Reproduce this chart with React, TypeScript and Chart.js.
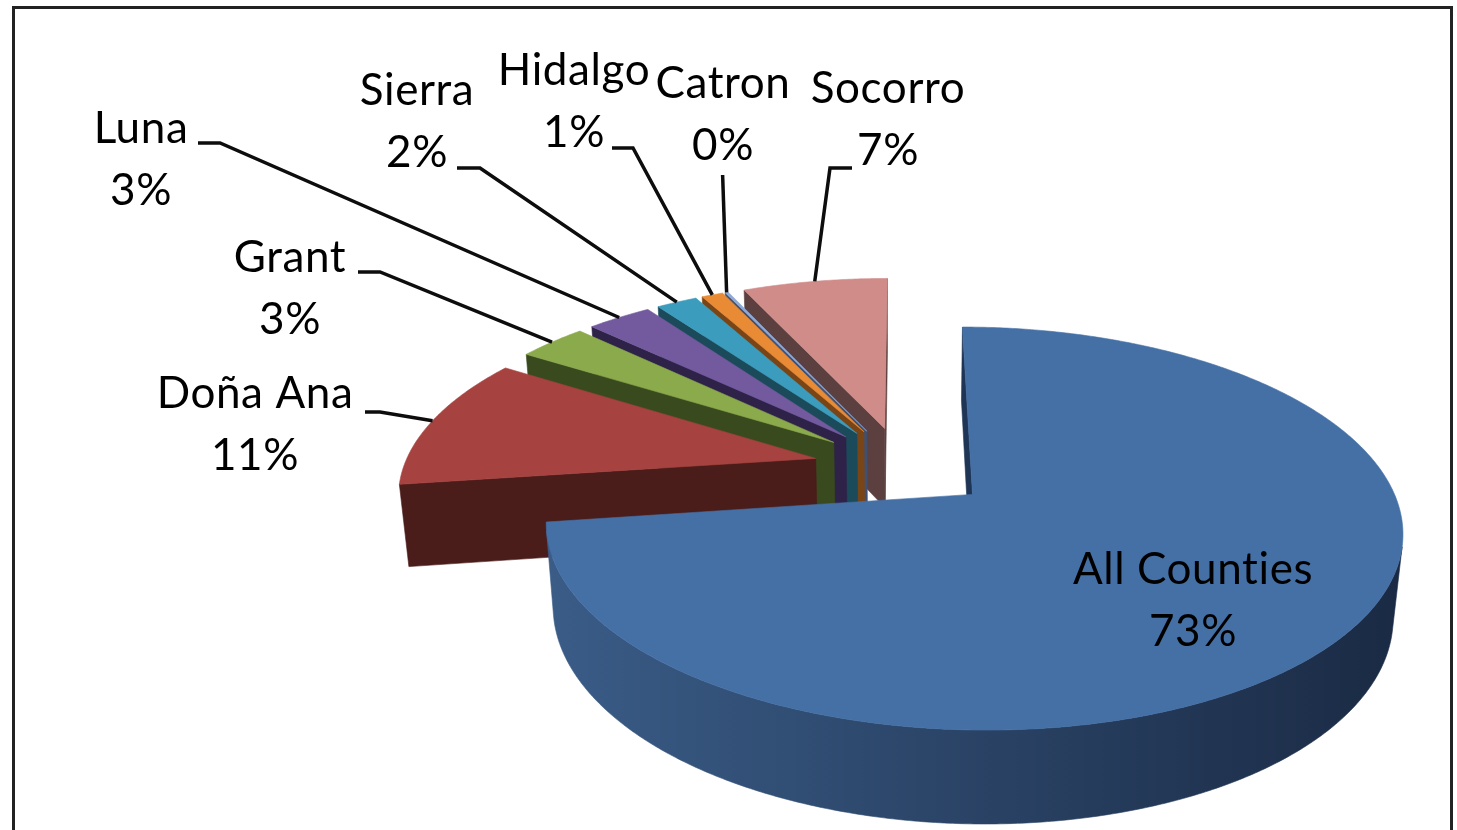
import React, { useEffect, useRef } from "react";
import { Chart, registerables } from "chart.js";

Chart.register(...registerables);

// ---- data ----
const COUNTIES = ["All Counties", "Doña Ana", "Grant", "Luna", "Sierra", "Hidalgo", "Catron", "Socorro"];
const SHARES = [72.8, 11.2, 3.2, 3.0, 1.9, 1.0, 0.15, 6.75];

// ---- styles ----
const TOP_COLORS = ["#4570A6", "#A6423F", "#8AAA4B", "#735A9E", "#3B9CBE", "#E98A35", "#8FA9D6", "#D08C89"];
const SIDE_COLORS = ["#1F3555", "#4A1C1A", "#3A4A1F", "#2E2248", "#1B4A5B", "#7A4516", "#3E5175", "#5C403F"];
const WALL_LEFT = ["#3A5C87", "#5A2220", "#44561F", "#37294F", "#1F5566", "#8A5019", "#4A5F86", "#6A4947"];
const WALL_RIGHT = ["#1A2A44", "#3E1614", "#2E3B18", "#241A3A", "#153C4A", "#663A10", "#33445F", "#4A3332"];

// ---- label layout (text centre x, first-line baseline y) ----
const LABEL_X = [1193, 255, 290, 141, 417, 574, 723, 888];
const LABEL_Y = [584, 408, 272, 143, 105, 85, 98, 103];
// leader stub: [x near text, x elbow, y]; null = no leader; x<0 = vertical leader
const LEADER_STUBS: (number[] | null)[] = [
  null,
  [365, 380, 412],
  [358, 380, 272],
  [198, 220, 143],
  [457, 480, 168],
  [612, 633, 148],
  [-1, -1, 175],
  [852, 830, 168],
];

const FONT = "44px Lato, 'Open Sans', sans-serif";
const LINE_GAP = 62;

const pie3d = {
  id: "pie3d",
  beforeDatasetsDraw(chart: any, _args: any, opts: any) {
    const meta = chart.getDatasetMeta(0);
    const arcs = meta.data as any[];
    if (!arcs.length) return false;
    const ctx: CanvasRenderingContext2D = chart.ctx;
    const first = arcs[0];
    const R = first.outerRadius;
    const cx = first.x;
    const cy = first.y;
    const k = Math.sin(opts.tilt);
    const c = Math.cos(opts.tilt);
    const D = opts.distance * R;
    const H = opts.depth * R;
    const E = opts.explode * R;
    const camW = D * c;
    const proj = (u: number, w: number, h: number): [number, number] => {
      const Z = w * c + h * k;
      const s = D / (D - Z);
      return [cx + u * s, cy + (w * k - h * c) * s];
    };
    const fillPoly = (pts: [number, number][], style: any) => {
      ctx.beginPath();
      pts.forEach(([x, y], j) => (j ? ctx.lineTo(x, y) : ctx.moveTo(x, y)));
      ctx.closePath();
      ctx.fillStyle = style;
      ctx.fill();
      ctx.strokeStyle = style;
      ctx.lineWidth = 0.6;
      ctx.stroke();
    };

    const slices = arcs.map((el: any, i: number) => {
      const s = el.startAngle;
      const e = el.endAngle;
      const mid = (s + e) / 2;
      return { i, s, e, mid, vu: E * Math.cos(mid), vw: E * Math.sin(mid) };
    });
    const order = [...slices].sort((p, q) => p.vw - q.vw);

    ctx.save();
    for (const sl of order) {
      const { i, s, e, vu, vw } = sl;
      if (e - s <= 0) continue;
      const n = Math.max(2, Math.ceil((e - s) / (Math.PI / 360)));
      const angs: number[] = [];
      for (let j = 0; j <= n; j++) angs.push(s + ((e - s) * j) / n);
      const pt = (a: number) => [vu + R * Math.cos(a), vw + R * Math.sin(a)];

      // radial cut faces
      const faces = [
        { a: s, na: s - Math.PI / 2 },
        { a: e, na: e + Math.PI / 2 },
      ];
      for (const f of faces) {
        const dot = Math.cos(f.na) * (0 - vu) + Math.sin(f.na) * (camW - vw);
        if (dot <= 0) continue;
        const [pu, pw] = pt(f.a);
        fillPoly([proj(vu, vw, 0), proj(pu, pw, 0), proj(pu, pw, -H), proj(vu, vw, -H)], SIDE_COLORS[i]);
      }

      // outer curved wall
      const vis = angs.map((a) => {
        const [qu, qw] = pt(a);
        return Math.cos(a) * (0 - qu) + Math.sin(a) * (camW - qw) > 0;
      });
      let j = 0;
      while (j <= n) {
        if (!vis[j]) { j++; continue; }
        let m = j;
        while (m + 1 <= n && vis[m + 1]) m++;
        if (m > j) {
          const top: [number, number][] = [];
          const bot: [number, number][] = [];
          for (let t = j; t <= m; t++) {
            const [qu, qw] = pt(angs[t]);
            top.push(proj(qu, qw, 0));
            bot.push(proj(qu, qw, -H));
          }
          const xs = top.map((p) => p[0]);
          const x0 = Math.min(...xs);
          const x1 = Math.max(...xs);
          const g = ctx.createLinearGradient(x0, 0, Math.max(x1, x0 + 1), 0);
          g.addColorStop(0, WALL_LEFT[i]);
          g.addColorStop(1, WALL_RIGHT[i]);
          fillPoly([...top, ...bot.reverse()], g);
        }
        j = m + 1;
      }

      // top face
      const topPts: [number, number][] = [proj(vu, vw, 0)];
      for (const a of angs) {
        const [qu, qw] = pt(a);
        topPts.push(proj(qu, qw, 0));
      }
      fillPoly(topPts, TOP_COLORS[i]);
    }

    // labels and leader lines
    const total = SHARES.reduce((a, b) => a + b, 0);
    ctx.strokeStyle = "#0d0d0d";
    ctx.lineWidth = 3.5;
    ctx.lineJoin = "miter";
    for (const sl of slices) {
      const stub = LEADER_STUBS[sl.i];
      if (!stub) continue;
      const [eu, ew] = [sl.vu + R * Math.cos(sl.mid), sl.vw + R * Math.sin(sl.mid)];
      const end = proj(eu, ew, 0);
      ctx.beginPath();
      if (stub[0] < 0) {
        ctx.moveTo(end[0] - 4, stub[2]);
      } else {
        ctx.moveTo(stub[0], stub[2]);
        ctx.lineTo(stub[1], stub[2]);
      }
      ctx.lineTo(end[0], end[1]);
      ctx.stroke();
    }
    ctx.fillStyle = "#000";
    ctx.font = FONT;
    (ctx as any).letterSpacing = "0.6px";
    ctx.textAlign = "center";
    ctx.textBaseline = "alphabetic";
    for (const sl of slices) {
      const pct = Math.round((SHARES[sl.i] / total) * 100);
      ctx.fillText(COUNTIES[sl.i], LABEL_X[sl.i], LABEL_Y[sl.i]);
      ctx.fillText(`${pct}%`, LABEL_X[sl.i], LABEL_Y[sl.i] + LINE_GAP);
    }
    ctx.restore();
    return false;
  },
};

export default function App() {
  const ref = useRef<HTMLCanvasElement | null>(null);
  useEffect(() => {
    if (!ref.current) return;
    const chart = new Chart(ref.current, {
      type: "pie",
      data: {
        labels: COUNTIES,
        datasets: [
          {
            data: SHARES,
            backgroundColor: TOP_COLORS,
            borderWidth: 0,
            hoverOffset: 0,
            offset: 0,
          },
        ],
      },
      options: {
        responsive: false,
        animation: false,
        events: [],
        layout: { padding: { left: 491, right: 142, top: 55, bottom: 1 } },
        plugins: {
          legend: { display: false },
          tooltip: { enabled: false },
          pie3d: { tilt: 0.4699, distance: 5.388, depth: 0.2257, explode: 0.2184 },
        } as any,
      },
      plugins: [pie3d as any],
    });
    return () => chart.destroy();
  }, []);
  return (
    <div
      style={{
        position: "fixed",
        left: 0,
        top: 0,
        width: 1457,
        height: 830,
        overflow: "hidden",
        background: "#fff",
      }}
    >
      <canvas ref={ref} width={1457} height={880} style={{ position: "absolute", left: 0, top: 0, width: 1457, height: 880 }} />
      <div
        style={{
          position: "absolute",
          left: 12,
          top: 6,
          width: 1441,
          height: 900,
          boxSizing: "border-box",
          border: "3px solid #222",
          pointerEvents: "none",
        }}
      />
    </div>
  );
}
